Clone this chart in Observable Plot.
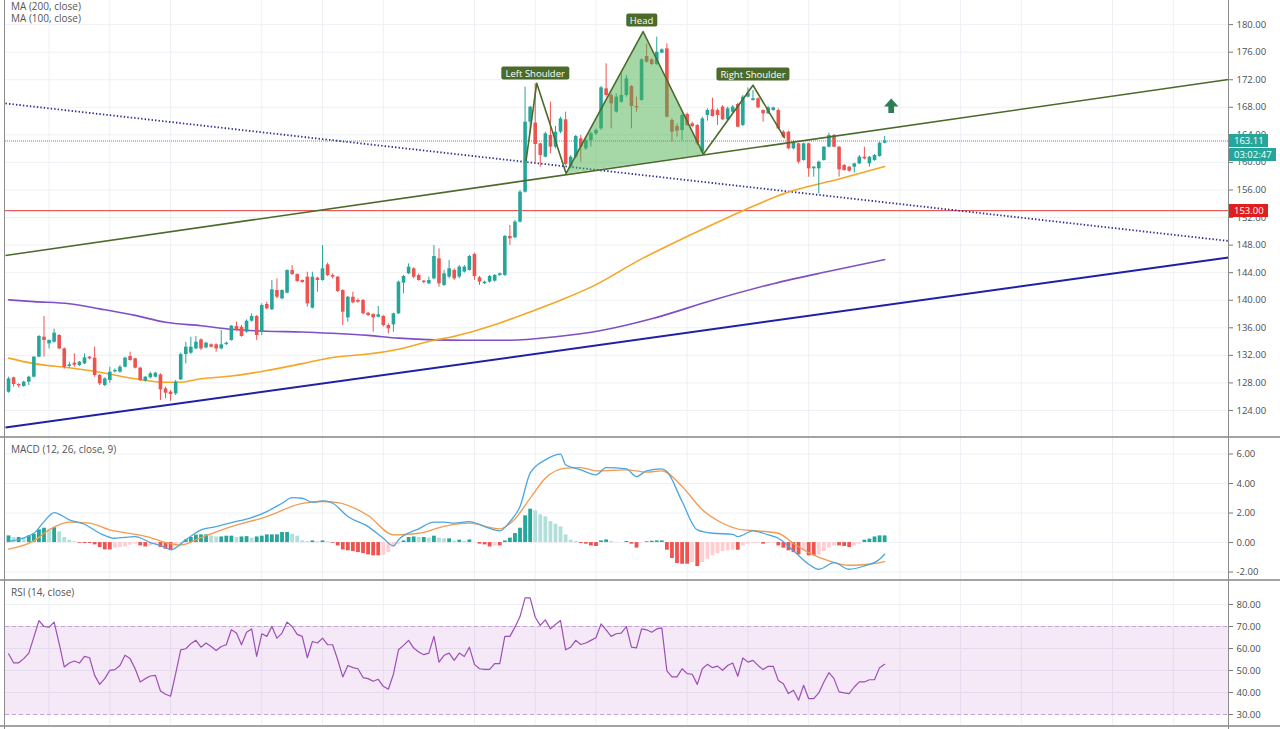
<!DOCTYPE html>
<html><head><meta charset="utf-8">
<script src="https://cdn.jsdelivr.net/npm/d3@7"></script>
<script src="https://cdn.jsdelivr.net/npm/@observablehq/plot@0.6"></script>
<style>
body{margin:0;background:#fff;font-family:"Open Sans",sans-serif;}
#wrap{position:relative;width:1280px;height:729px;overflow:hidden;background:#fff;}
.panel{position:absolute;left:0;}
.hline{position:absolute;left:0;width:1280px;height:2px;background:#a3a3a3;}
.vline{position:absolute;top:0;width:1px;height:729px;background:#8c8c8c;}
.legend{position:absolute;left:11px;font-size:10px;line-height:12px;color:#555;white-space:nowrap;}
.tag{position:absolute;left:1229px;color:#fff;font-size:9.5px;line-height:13px;height:13px;padding:0 4px 0 5px;white-space:nowrap;}
.hs{position:absolute;background:#4b6b2b;color:#fff;font-size:9.5px;line-height:13px;height:13px;padding:0 4px;border-radius:2px;white-space:nowrap;transform:translate(-50%,-50%);}
</style>
</head><body>
<div id="wrap"></div>
<script>
// ---------------- DATA ----------------
const open = [126.65,128.74,127.77,127.48,128.11,128.83,131.74,134.64,133.67,133.91,
134.88,132.94,130.38,130.86,130.53,130.77,131.74,131.59,129.08,127.62,
128.35,129.61,129.56,130.28,131.83,131.49,130.14,128.25,128.74,128.83,
129.17,127.14,126.66,126.41,128.45,132.12,132.32,132.94,134.25,133.09,
133.53,133.53,132.94,133.57,134.16,136.19,136.09,135.36,136.96,137.64,
135.36,139.38,138.61,141.41,140.20,141.02,144.31,143.73,142.86,143.35,
138.85,143.20,142.86,145.14,143.59,143.35,141.41,137.44,140.44,139.96,
139.96,138.12,137.93,137.54,137.64,136.33,136.43,138.03,142.48,143.83,
144.56,143.59,142.77,142.38,143.10,146.01,142.14,
143.36,144.32,143.36,144.08,144.32,146.65,143.26,142.39,142.63,142.77,143.60,143.60,149.26,149.06,151.34,
155.68,165.84,165.70,162.70,160.76,163.91,162.21,164.39,166.18,159.31,
160.76,163.42,161.97,163.18,164.15,164.87,170.68,169.71,167.29,168.74,
169.71,171.02,168.12,168.99,175.37,174.89,174.21,175.86,176.48,166.08,
165.21,164.63,166.95,165.60,165.36,161.49,166.81,167.63,167.53,168.02,
166.18,167.29,168.41,165.36,169.47,168.99,169.23,167.53,167.05,167.53,
167.53,164.39,164.39,161.97,162.70,160.28,162.70,159.07,159.07,160.28,
162.21,163.91,162.21,159.55,159.31,159.31,159.79,160.76,159.79,160.28,160.86,162.79];
const close = [128.59,127.77,127.57,128.11,128.83,131.74,134.73,134.16,134.16,135.22,
132.94,130.28,130.62,130.57,131.01,131.64,131.49,129.08,127.87,128.59,
129.56,129.80,130.28,131.59,131.25,130.14,128.35,128.83,129.32,129.41,
126.99,126.51,126.32,128.11,132.12,133.19,133.19,133.91,132.94,133.77,
133.19,132.94,133.53,133.77,136.24,135.61,134.73,136.96,137.64,134.88,
139.24,138.75,141.51,140.44,141.41,144.31,143.73,142.72,142.57,139.48,
143.35,142.86,144.56,143.59,143.35,141.27,138.27,140.44,139.62,139.72,
138.03,137.78,137.44,137.88,136.33,135.85,138.03,142.62,143.44,144.80,
143.35,142.86,142.57,142.86,146.35,142.38,143.83,
144.56,143.11,144.81,144.81,146.35,143.45,142.63,142.63,143.45,143.60,143.84,149.26,148.92,151.34,155.69,
165.84,168.02,162.60,161.00,164.15,162.21,164.39,166.32,159.70,160.76,
163.76,162.21,163.18,164.15,164.63,170.82,169.71,168.50,169.47,169.71,
172.13,168.12,167.92,174.89,174.55,174.21,176.00,176.34,166.57,164.39,
164.53,166.81,165.36,165.21,162.70,166.32,167.53,166.66,166.81,166.18,
167.78,168.02,165.12,169.47,170.05,169.23,167.92,167.05,167.92,167.92,
164.87,163.66,161.97,162.79,160.04,162.70,159.07,159.31,160.04,162.21,
163.91,162.21,158.92,158.83,158.73,159.79,160.76,160.52,160.76,161.00,162.79,163.11];
const high = [128.83,128.83,127.87,128.25,128.98,131.83,134.88,137.64,134.25,135.80,
135.03,133.09,131.01,132.22,131.11,132.22,131.83,133.19,129.22,128.74,
130.28,130.04,130.53,131.74,132.46,131.59,130.28,128.93,129.56,129.56,
129.32,127.38,126.90,128.35,132.32,133.91,134.64,134.73,134.40,133.91,
133.67,133.67,135.61,133.91,136.33,136.85,136.33,137.15,138.03,137.78,
139.48,139.72,142.86,143.10,141.51,144.41,145.04,143.83,142.96,144.07,
144.07,143.35,147.94,145.38,143.83,143.44,141.51,140.54,141.17,140.20,
140.11,138.27,138.03,139.09,137.78,136.57,138.12,142.77,143.59,145.28,
144.70,143.83,142.86,143.35,147.94,147.46,144.31,
145.77,144.56,145.05,145.05,146.50,146.84,143.45,142.77,143.60,143.74,143.94,149.40,150.85,151.58,155.93,
170.92,168.12,171.41,162.79,164.39,168.74,165.21,166.57,167.29,161.00,
163.91,163.91,163.42,164.39,164.87,171.02,174.31,169.95,169.95,172.86,
172.61,171.16,169.47,175.03,177.21,175.03,178.18,176.48,177.21,166.32,
165.60,167.05,167.15,165.84,165.50,166.57,167.78,169.32,167.78,168.26,
168.02,168.26,168.60,169.71,170.82,170.44,169.37,167.63,168.12,168.02,
167.78,164.63,164.53,163.18,162.79,162.79,162.79,159.41,160.18,162.31,
164.24,164.05,162.31,159.70,159.41,159.89,161.00,162.21,160.86,161.15,162.94,163.76];
const low = [126.51,127.38,127.28,127.38,127.62,128.74,131.64,131.74,132.94,133.77,
132.80,129.99,130.19,130.28,130.38,130.67,131.35,128.83,127.62,127.48,
127.96,129.41,129.41,130.19,131.16,130.04,128.20,128.11,128.59,128.74,
125.45,125.69,125.35,126.17,128.35,130.77,132.12,132.80,132.70,132.94,
133.04,132.46,132.80,133.43,134.06,135.51,134.64,135.22,136.81,134.16,
134.88,138.61,138.51,140.20,140.06,140.93,143.59,142.62,142.48,138.99,
138.75,141.17,142.77,143.44,143.10,141.12,136.33,136.81,139.48,139.57,
137.88,137.64,135.36,137.44,136.09,135.12,135.36,137.93,140.93,143.73,
143.10,142.77,142.38,142.28,142.96,141.89,141.99,
143.11,142.87,143.11,143.94,144.23,142.87,142.15,142.29,142.48,142.63,143.45,143.45,147.95,148.92,151.19,
155.54,164.15,159.79,159.31,160.66,161.25,161.97,164.15,159.55,159.07,
160.52,160.04,161.73,162.21,163.91,164.63,169.47,164.87,167.15,168.60,
169.47,164.87,167.29,168.89,174.40,174.07,174.07,175.76,166.47,162.94,
163.66,163.18,165.21,165.02,162.45,161.34,165.99,166.57,165.36,166.08,
166.08,167.15,165.02,165.21,169.37,168.89,167.78,165.84,166.95,167.44,
164.73,163.57,161.83,161.83,159.79,160.18,157.86,157.86,155.44,160.18,
162.12,162.12,157.86,158.73,158.58,158.44,159.68,160.37,159.31,160.18,160.76,162.70];

// moving averages (bar index, value)
const ma100Idx = [0,5,12,18,25,31,34,38,44,51,58,64,71,77,84,87,97,103,109,115,125,135,145,154,164,173];
const ma100Val = [131.6,130.8,130.2,129.56,128.6,128.1,128.1,128.6,129.0,129.8,130.8,131.7,132.2,132.9,134.2,134.6,136.7,138.3,140.0,141.9,146.0,149.6,153.0,155.7,157.6,159.4];
const ma200Idx = [0,5,12,18,25,31,38,44,51,58,64,71,77,84,90,99,108,117,127,139,151,162,173];
const ma200Val = [140.06,139.8,139.5,138.75,137.8,136.8,136.3,135.8,135.5,135.4,135.2,134.9,134.5,134.25,134.2,134.2,134.7,135.6,137.3,140.0,142.4,144.2,145.9];

// drawn trend lines: start / end (bar index, price)
const trendX1 = [-0.6,-0.6,-0.6];
const trendY1 = [146.5,168.56,121.53];
const trendX2 = [240.9,240.9,240.9];
const trendY2 = [172.04,148.6,146.2];
const supportLevel = [153];
const lastPrice = [163.11];

// head & shoulders pattern vertices
const hsIdx = [102.2,104.3,110.1,125.3,137.2,147.0,153.2];
const hsPrice = [160.3,171.5,158.4,179.0,161.2,171.2,163.6];
const headFill = [2,3,4];
const hsLabels = ["Left Shoulder","Head","Right Shoulder"];
const hsLabelIdx = [104.1,125.1,147.1];
const hsLabelPrice = [172.96,180.6,172.8];
const arrowIdx = [174.3];
const arrowPrice = [168.1];

// time grid (bar index)
const gridIdx = [8,20,32,50,62,74,92,104,116,134,146,158,176,188,200,218,230];
const priceTicks = [124,128,132,136,140,144,148,152,156,160,164,168,172,176,180];
const macdTicks = [-2,0,2,4,6];
const rsiTicks = [30,40,50,60,70,80];
const rsiBand = [30,70];

// MACD histogram (per bar)
const hist = [0.45,0.34,0.34,0.3,0.45,0.56,0.86,0.97,0.9,1.0,
0.72,0.34,0.16,0.05,-0.05,-0.07,-0.07,-0.16,-0.34,-0.5,
-0.5,-0.38,-0.34,-0.3,-0.18,-0.11,-0.23,-0.3,-0.23,-0.11,
-0.34,-0.45,-0.5,-0.23,-0.11,0.18,0.34,0.5,0.52,0.52,
0.45,0.38,0.38,0.43,0.43,0.34,0.38,0.4,0.3,0.38,
0.43,0.52,0.52,0.52,0.68,0.68,0.56,0.43,0.11,0.07,
0.11,0.05,0.11,0.05,-0.05,-0.23,-0.5,-0.56,-0.61,-0.68,
-0.75,-0.84,-0.9,-0.9,-0.86,-0.68,-0.3,-0.11,0.11,0.34,
0.38,0.34,0.34,0.3,0.43,0.3,0.25,0.25,
0.1,0.16,0.09,0.18,0.0,-0.11,-0.16,-0.3,-0.23,-0.23,
0.11,0.3,0.61,0.97,1.81,2.26,2.15,1.88,1.74,1.42,
1.24,1.06,0.52,0.16,0.07,-0.07,-0.11,-0.23,-0.27,0.11,
0.18,0.07,0.02,0.0,0.07,-0.11,-0.38,-0.02,0.05,0.09,
0.11,0.11,-0.52,-1.08,-1.42,-1.47,-1.47,-1.36,-1.63,-1.36,
-1.13,-0.9,-0.75,-0.61,-0.56,-0.52,-0.52,-0.23,-0.11,-0.07,
-0.05,-0.11,-0.07,-0.05,-0.23,-0.38,-0.56,-0.68,-0.84,-0.56,
-0.9,-0.9,-0.84,-0.61,-0.38,-0.23,-0.23,-0.27,-0.34,-0.23,
-0.11,0.16,0.23,0.38,0.45,0.45];
// MACD and signal lines (bar index, value)
const macdIdx = [0,5,7,9,12,15,18,21,25,28,31,32,35,38,41,44,48,51,54,56,58,60,62,64,67,71,74,76,77,81,84,86,88,91,94,97,99,101,103,106,109,110,113,116,118,122,124,126,129,130,133,136,139,143,144,147,150,152,155,158,160,163,166,169,172,173];
const macdVal = [0.07,0.63,1.42,2.03,1.54,1.24,0.63,0.29,0.4,0,-0.34,-0.5,0.18,0.86,1.08,1.35,1.69,2.1,2.66,3.05,3.0,2.73,2.82,2.66,1.76,1.08,0.29,-0.23,0.18,0.93,1.38,1.38,1.31,1.42,1.08,0.79,1.42,2.44,4.7,5.6,5.99,5.27,4.93,4.59,5.08,4.99,4.47,4.86,4.99,4.81,2.78,0.86,0.63,0.56,0.4,0.79,0.52,0.29,-0.56,-1.47,-1.81,-1.36,-1.81,-1.58,-1.13,-0.79];
const sigIdx = [0,5,8,12,16,20,25,28,31,34,38,44,51,58,62,65,71,76,81,86,91,97,100,103,106,110,113,116,122,126,129,133,137,141,145,148,152,155,158,162,166,170,173];
const sigVal = [-0.45,0.11,0.86,1.38,1.31,0.86,0.56,0.34,0,-0.16,0.34,1.08,1.76,2.66,2.78,2.71,1.83,0.52,0.63,1.1,1.31,0.93,1.6,3.0,4.36,5.04,5.08,4.86,4.93,4.77,4.86,3.8,2.22,1.31,0.86,0.79,0.63,-0.07,-0.68,-1.24,-1.54,-1.47,-1.29];

// RSI (per bar)
const rsi = [57.6,53.5,53.5,55.4,57.9,65.2,72.7,70,69.7,72,
62.2,51.6,53.4,54.3,53.4,56.4,55.8,47.8,43.7,46.3,
50.1,50.4,52.3,56.9,55.4,50.8,44.8,46.3,47.5,47.8,
40.7,39.2,38.3,48.6,59.4,59.9,62.2,63.7,60.6,62.5,
60.9,59.1,60.9,61.7,68.5,67,61.7,67.4,68.9,56.4,
66.7,65.5,70,64.7,67,72,70,66.4,65.5,55.8,
63.2,62.5,64.7,61.8,61.7,54.9,47.1,52.3,51.3,50.8,
46.8,46.3,45.1,46,42.8,41.5,48.3,59.4,61.4,63.7,
60.2,58.4,57.2,57.9,65.5,53.8,56.9,57.9,
54.6,57.9,56.4,60.6,52.8,50.8,50.5,50.5,53.1,53.1,
65.5,65.5,69.7,74.5,83,83,74.2,70.5,73,68.9,
70.9,72.7,59.4,60.6,63.7,61.8,62.5,63.7,64.9,71.2,
68.5,65.5,66.7,67,70,60.6,60.3,68.9,68.5,67.4,
68.9,69.4,49.8,47.1,47.1,50.8,48.6,48.3,43.7,50.8,
52.8,51.3,52,50.1,52.3,53.4,47.4,55.7,53.8,54.6,
52.3,50.4,51.9,51.9,45.5,44,39.5,41,36.5,43.3,
37.2,37.2,39.8,44.8,49,46.3,40.3,39.8,39.5,42.5,
44.8,44.8,45.8,45.8,51.3,52.8];

const legendMain = ["MA (200, close)","MA (100, close)"];
const legendMacd = "MACD (12, 26, close, 9)";
const legendRsi = "RSI (14, close)";
const countdown = "03:02:47";

// ---------------- CHART ----------------
const UP = "#26a69a", DN = "#ef5350";
const GRID = "#edf0f5";
const W = 1280, ML = 5, MR = 52;
const xDomain = [-0.6, 240.9];
const N = close.length;
const bars = d3.range(N);
const cColor = i => close[i] >= open[i] ? UP : DN;
const hColor = i => {
  const v = hist[i], p = i > 0 ? hist[i - 1] : 0;
  if (v >= 0) return v >= p ? "#26a69a" : "#b2dfdb";
  return v <= p ? "#ef5350" : "#ffcdd2";
};
const fmt = d => d.toFixed(2);
const baseStyle = {fontFamily: '"Open Sans", sans-serif', fontSize: "9.5px", color: "#4d4d4d", background: "transparent", overflow: "visible"};

const arrowSymbol = {
  draw(ctx, size) {
    const r = Math.sqrt(size / Math.PI);
    ctx.moveTo(0, -r);
    ctx.lineTo(r * 0.9, 0);
    ctx.lineTo(r * 0.36, 0);
    ctx.lineTo(r * 0.36, r * 0.8);
    ctx.lineTo(-r * 0.36, r * 0.8);
    ctx.lineTo(-r * 0.36, 0);
    ctx.lineTo(-r * 0.9, 0);
    ctx.closePath();
  }
};

const main = Plot.plot({
  width: W, height: 437, marginLeft: ML, marginRight: MR, marginTop: 0, marginBottom: 0,
  x: {domain: xDomain, axis: null},
  y: {domain: [120.08, 183.5], axis: null},
  color: {type: "identity"},
  style: baseStyle,
  marks: [
    Plot.gridY(priceTicks, {stroke: GRID, strokeOpacity: 1}),
    Plot.ruleX(gridIdx, {stroke: GRID, strokeOpacity: 1}),
    Plot.axisY(priceTicks, {anchor: "right", tickSize: 4, tickPadding: 4, tickFormat: fmt, stroke: "#777"}),
    Plot.ruleY(supportLevel, {stroke: "#e53935", strokeWidth: 1}),
    Plot.ruleY(lastPrice, {stroke: "#26a69a", strokeWidth: 1, strokeDasharray: "1 1"}),
    Plot.link([0], {x1: () => trendX1[1], y1: () => trendY1[1], x2: () => trendX2[1], y2: () => trendY2[1], stroke: "#2f2f8f", strokeWidth: 1.8, strokeDasharray: "1.4 2.1"}),
    Plot.link([0], {x1: () => trendX1[2], y1: () => trendY1[2], x2: () => trendX2[2], y2: () => trendY2[2], stroke: "#2020a6", strokeWidth: 2}),
    Plot.line(ma200Idx, {x: (d) => d, y: (d, i) => ma200Val[i], curve: "monotone-x", stroke: "#7e4fc6", strokeWidth: 1.6}),
    Plot.line(ma100Idx, {x: (d) => d, y: (d, i) => ma100Val[i], curve: "monotone-x", stroke: "#f5a623", strokeWidth: 1.6}),
    Plot.ruleX(bars, {x: i => i, y1: i => low[i], y2: i => high[i], stroke: cColor, strokeWidth: 1}),
    Plot.ruleX(bars, {x: i => i, y1: i => open[i], y2: i => close[i], stroke: cColor, strokeWidth: 3.6}),
    Plot.line(headFill, {x: i => hsIdx[i], y: i => hsPrice[i], fill: "#4caf50", fillOpacity: 0.5, stroke: "none"}),
    Plot.link([0], {x1: () => trendX1[0], y1: () => trendY1[0], x2: () => trendX2[0], y2: () => trendY2[0], stroke: "#4b6b2b", strokeWidth: 1.6}),
    Plot.line(hsIdx, {x: d => d, y: (d, i) => hsPrice[i], stroke: "#4b6b2b", strokeWidth: 1.6}),
    Plot.dot(arrowIdx, {x: d => d, y: (d, i) => arrowPrice[i], symbol: arrowSymbol, r: 8, fill: "#2e7d55", stroke: "none"})
  ]
});

const macd = Plot.plot({
  width: W, height: 143, marginLeft: ML, marginRight: MR, marginTop: 0, marginBottom: 0,
  x: {domain: xDomain, axis: null},
  y: {domain: [-2.64, 7.05], axis: null},
  color: {type: "identity"},
  style: baseStyle,
  marks: [
    Plot.gridY(macdTicks, {stroke: GRID, strokeOpacity: 1}),
    Plot.ruleX(gridIdx, {stroke: GRID, strokeOpacity: 1}),
    Plot.axisY(macdTicks, {anchor: "right", tickSize: 4, tickPadding: 4, tickFormat: fmt, stroke: "#777"}),
    Plot.ruleX(bars, {x: i => i, y1: 0, y2: i => hist[i], stroke: hColor, strokeWidth: 3.8}),
    Plot.line(sigIdx, {x: d => d, y: (d, i) => sigVal[i], curve: "monotone-x", stroke: "#f39a4f", strokeWidth: 1.3}),
    Plot.line(macdIdx, {x: d => d, y: (d, i) => macdVal[i], curve: "monotone-x", stroke: "#4aa6e0", strokeWidth: 1.3})
  ]
});

const rsiPlot = Plot.plot({
  width: W, height: 145, marginLeft: ML, marginRight: MR, marginTop: 0, marginBottom: 0,
  x: {domain: xDomain, axis: null},
  y: {domain: [24.55, 90.45], axis: null},
  color: {type: "identity"},
  style: baseStyle,
  marks: [
    Plot.gridY(rsiTicks, {stroke: GRID, strokeOpacity: 1}),
    Plot.ruleX(gridIdx, {stroke: GRID, strokeOpacity: 1}),
    Plot.rect([0], {y1: () => rsiBand[0], y2: () => rsiBand[1], fill: "#9c27b0", fillOpacity: 0.1}),
    Plot.ruleY(rsiBand, {stroke: "#c9a0d6", strokeDasharray: "4 3"}),
    Plot.axisY(rsiTicks, {anchor: "right", tickSize: 4, tickPadding: 4, tickFormat: fmt, stroke: "#777"}),
    Plot.line(bars, {x: i => i, y: i => rsi[i], stroke: "#9c4fb5", strokeWidth: 1.2})
  ]
});

const wrap = document.getElementById("wrap");
function panel(node, top) {
  const d = document.createElement("div");
  d.className = "panel"; d.style.top = top + "px";
  d.appendChild(node); wrap.appendChild(d);
}
panel(main, 0); panel(macd, 438); panel(rsiPlot, 581);

function div(cls, text, css) {
  const d = document.createElement("div");
  d.className = cls; if (text != null) d.textContent = text;
  Object.assign(d.style, css); wrap.appendChild(d); return d;
}
// panel borders
div("hline", null, {top: "436px"});
div("hline", null, {top: "579px"});
div("hline", null, {top: "725px"});
div("vline", null, {left: "4px"});
div("vline", null, {left: "1228px"});

// legends
div("legend", legendMain[0], {top: "0px"});
div("legend", legendMain[1], {top: "12px"});
div("legend", legendMacd, {top: "443px"});
div("legend", legendRsi, {top: "586px"});

// price tags via scales
const sx = main.scale("x"), sy = main.scale("y");
const yLast = sy.apply(lastPrice[0]);
div("tag", fmt(lastPrice[0]), {top: (yLast - 6.5) + "px", background: "#26a69a"});
div("tag", countdown, {top: (yLast + 7.5) + "px", background: "#26a69a"});
div("tag", fmt(supportLevel[0]), {top: (sy.apply(supportLevel[0]) - 6.5) + "px", background: "#e01e1e"});

// head & shoulders labels
hsLabels.forEach((t, i) => {
  div("hs", t, {left: sx.apply(hsLabelIdx[i]) + "px", top: sy.apply(hsLabelPrice[i]) + "px"});
});
</script>
</body></html>
